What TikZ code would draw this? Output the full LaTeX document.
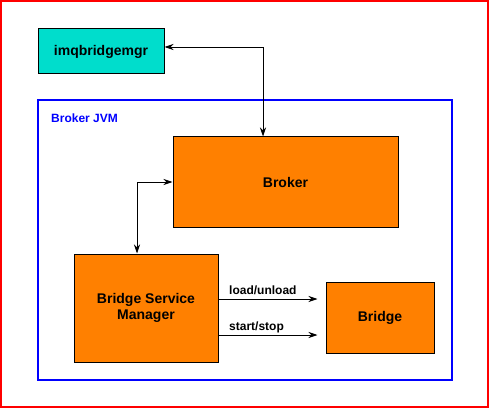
\documentclass[tikz,border=0pt]{standalone}
\usepackage{fontspec}
\setmainfont{Liberation Sans}
\usetikzlibrary{arrows.meta}
\definecolor{boxorange}{RGB}{255,128,0}
\definecolor{boxcyan}{RGB}{0,221,204}
\definecolor{jvmblue}{RGB}{0,0,255}
\definecolor{outerred}{RGB}{255,0,0}
\begin{document}
\begin{tikzpicture}[x=1pt,y=-1pt,
  box/.style={draw=black,line width=1pt,fill=boxorange,inner sep=0pt,align=center,font=\fontsize{14}{16}\selectfont\bfseries},
  conn/.style={line width=0.9pt,-{Stealth[length=9pt,width=6pt]}},
  biconn/.style={line width=0.9pt,{Stealth[length=9pt,width=6pt]}-{Stealth[length=9pt,width=6pt]}},
  lbl/.style={font=\fontsize{12}{14}\selectfont\bfseries,inner sep=0pt}]
\useasboundingbox (0,0) rectangle (490,409);
\draw[outerred,line width=2pt] (1,1) rectangle (488,407);
\draw[jvmblue,line width=1.6pt] (38,100) rectangle (452,380);
\node[lbl,text=jvmblue,anchor=base west] (jvm) at (51,123) {Broker JVM};
\node[box,fill=boxcyan,minimum width=126pt,minimum height=45pt] (imq) at (101,51.5) {imqbridgemgr};
\node[box,minimum width=225pt,minimum height=90pt] (broker) at (285.5,182) {Broker};
\node[box,minimum width=144pt,minimum height=108pt] (bsm) at (146,308) {Bridge Service\\Manager};
\node[box,minimum width=108pt,minimum height=71pt] (bridge) at (380,317.5) {Bridge};
\coordinate (loadS) at ([yshift=9pt]bsm.east);
\coordinate (startS) at ([yshift=-27pt]bsm.east);
\draw[biconn] ([yshift=4.5pt]imq.east) -| ([xshift=-22.5pt]broker.north);
\draw[biconn] (broker.west) -| ([xshift=-9pt]bsm.north);
\draw[conn,shorten >=8pt] (loadS) -- (loadS -| bridge.west);
\draw[conn,shorten >=8pt] (startS) -- (startS -| bridge.west);
\node[lbl,anchor=base west] (load) at (229,294) {load/unload};
\node[lbl,anchor=base west] (start) at (229,330) {start/stop};
\end{tikzpicture}
\end{document}
